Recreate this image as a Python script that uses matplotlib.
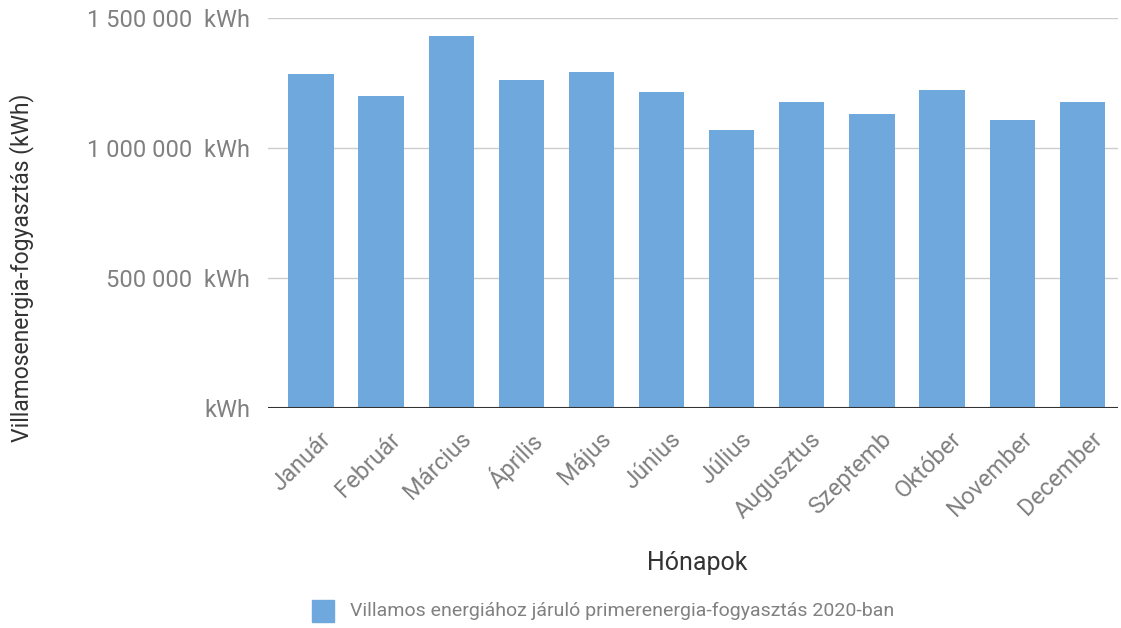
import matplotlib
matplotlib.use("Agg")
import matplotlib.pyplot as plt
import matplotlib.transforms as mtransforms
from matplotlib.ticker import FuncFormatter

plt.rcParams["font.family"] = ["Roboto", "DejaVu Sans"]

months = ["Január", "Február", "Március", "Április", "Május", "Június",
          "Július", "Augusztus", "Szeptemb", "Október", "November", "December"]
consumption = [1286000, 1200000, 1431000, 1262000, 1292000, 1215000,
               1069000, 1178000, 1131000, 1223000, 1109000, 1178000]
y_ticks = [0, 500000, 1000000, 1500000]

BAR_COLOR = "#6fa8dc"
TEXT_COLOR = "#808080"


def fmt_kwh(v, _pos):
    if v == 0:
        return "kWh"
    return f"{int(v):,}".replace(",", " ") + "  kWh"


fig = plt.figure(figsize=(11.21, 6.28), dpi=100)
ax = fig.add_axes([268 / 1121, 1 - 408 / 628, 850 / 1121, 390 / 628])

x = range(len(months))
ax.bar(x, consumption, width=0.645, color=BAR_COLOR, zorder=3)

ax.set_ylim(0, 1500000)
ax.set_xlim(-0.613, 11.51)
ax.set_yticks(y_ticks)
ax.yaxis.set_major_formatter(FuncFormatter(fmt_kwh))
ax.grid(axis="y", color="#cccccc", linewidth=1, zorder=0)
ax.axhline(0, color="#333333", linewidth=1.5, zorder=4)

for s in ax.spines.values():
    s.set_visible(False)
ax.tick_params(axis="both", length=0, colors=TEXT_COLOR, labelsize=17)
ax.tick_params(axis="y", pad=13)
ax.set_xticks(list(x))
ax.set_xticklabels(months, rotation=45, ha="right", rotation_mode="anchor")
ax.tick_params(axis="x", pad=14)
shift = mtransforms.ScaledTranslation(8 / 100, 0, fig.dpi_scale_trans)
for lbl in ax.get_xticklabels():
    lbl.set_transform(lbl.get_transform() + shift)

fig.text(22 / 1121, 1 - 268 / 628, "Villamosenergia-fogyasztás (kWh)", rotation=90,
         ha="center", va="center", fontsize=16.5, color="#333333")
fig.text(697 / 1121, 1 - 563 / 628, "Hónapok", ha="center", va="center",
         fontsize=18, color="#333333")

# legend
fig.patches.append(plt.Rectangle((312 / 1121, 1 - 622 / 628), 22 / 1121, 22 / 628,
                                 transform=fig.transFigure, color=BAR_COLOR))
fig.text(350 / 1121, 1 - 611 / 628, "Villamos energiához járuló primerenergia-fogyasztás 2020-ban",
         ha="left", va="center", fontsize=14, color=TEXT_COLOR)

fig.savefig("out.png", dpi=100)
